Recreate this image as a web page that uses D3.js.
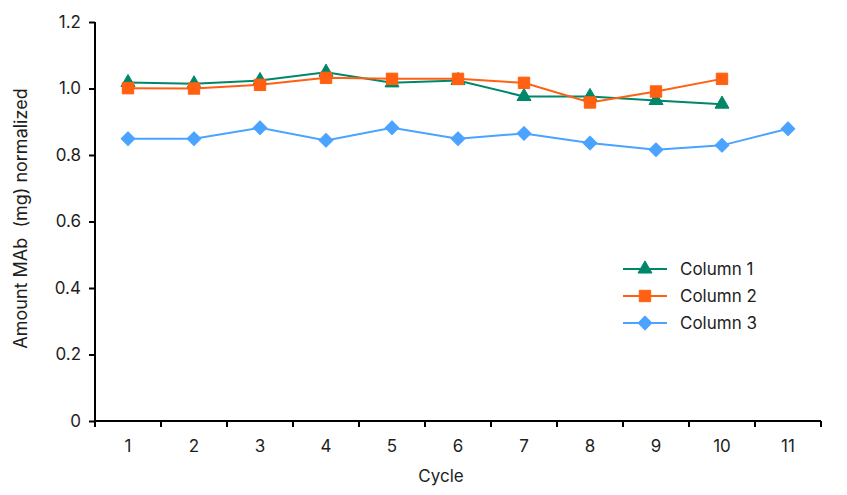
<!DOCTYPE html>
<html>
<head>
<meta charset="utf-8">
<script src="https://cdn.jsdelivr.net/npm/d3@7"></script>
<style>
  body { margin: 0; background: #fff; }
  text { font-family: Inter, "Liberation Sans", sans-serif; fill: #1e1e1e; }
</style>
</head>
<body>
<div id="chart"></div>
<script>
const cycles = [1, 2, 3, 4, 5, 6, 7, 8, 9, 10, 11];
const column1 = [1.018, 1.014, 1.024, 1.049, 1.017, 1.024, 0.976, 0.976, 0.964, 0.953];
const column2 = [1.001, 1.000, 1.011, 1.032, 1.029, 1.029, 1.017, 0.958, 0.991, 1.029];
const column3 = [0.849, 0.849, 0.882, 0.844, 0.882, 0.849, 0.865, 0.836, 0.816, 0.829, 0.879];
const yTicks = [0, 0.2, 0.4, 0.6, 0.8, 1.0, 1.2];

// rotate: diamond is a square turned 45 degrees
const series = [
  { name: "Column 1", values: column1, color: "#00876a", symbol: d3.symbolTriangle, size: 85, rotate: 0 },
  { name: "Column 2", values: column2, color: "#ff6011", symbol: d3.symbolSquare, size: 130, rotate: 0 },
  { name: "Column 3", values: column3, color: "#4aa3ff", symbol: d3.symbolSquare, size: 95, rotate: 45 }
];

var margin = { top: 22, right: 26, bottom: 74, left: 95 },
    width = 847 - margin.left - margin.right,
    height = 495 - margin.top - margin.bottom;

var svg = d3.select("#chart")
    .append("svg")
    .attr("width", 847)
    .attr("height", 495)
    .append("g")
    .attr("transform", "translate(" + margin.left + "," + margin.top + ")");

var x = d3.scaleBand()
    .domain(cycles)
    .range([0, width]);

var y = d3.scaleLinear()
    .domain([0, 1.2])
    .range([height, 0]);

// x axis: ticks sit between the categories
var xAxis = svg.append("g")
    .attr("transform", "translate(0," + height + ")");
xAxis.append("line")
    .attr("x1", 0).attr("x2", width)
    .attr("stroke", "#000").attr("stroke-width", 2);
xAxis.selectAll("line.tick")
    .data(cycles.concat([null]))
    .enter().append("line")
    .attr("class", "tick")
    .attr("x1", (d, i) => i * x.bandwidth())
    .attr("x2", (d, i) => i * x.bandwidth())
    .attr("y1", 0).attr("y2", 6)
    .attr("stroke", "#000").attr("stroke-width", 2);
xAxis.selectAll("text")
    .data(cycles)
    .enter().append("text")
    .attr("x", d => x(d) + x.bandwidth() / 2)
    .attr("y", 31)
    .attr("text-anchor", "middle")
    .style("font-size", "17px")
    .text(d => d);

// y axis
var yAxis = svg.append("g")
    .call(d3.axisLeft(y).tickValues(yTicks).tickSize(6).tickPadding(8)
        .tickFormat(d => d === 0 ? "0" : d3.format(".1f")(d)));
yAxis.select(".domain").attr("stroke", "#000").attr("stroke-width", 2)
    .attr("d", "M0," + y(1.2) + "V" + height);
yAxis.selectAll(".tick line").attr("stroke", "#000").attr("stroke-width", 2);
yAxis.selectAll(".tick text")
    .style("font-size", "17px")
    .style("font-family", "Inter, 'Liberation Sans', sans-serif")
    .attr("fill", "#1e1e1e");

function marker(s) {
    return d3.symbol().type(s.symbol).size(s.size)();
}

// lines and markers
series.forEach(function (s) {
    var line = d3.line()
        .x((d, i) => x(cycles[i]) + x.bandwidth() / 2)
        .y(d => y(d));
    svg.append("path")
        .attr("d", line(s.values))
        .attr("fill", "none")
        .attr("stroke", s.color)
        .attr("stroke-width", 2);
    svg.selectAll(null)
        .data(s.values)
        .enter().append("path")
        .attr("d", marker(s))
        .attr("transform", (d, i) => "translate(" + (x(cycles[i]) + x.bandwidth() / 2) + "," + y(d) + ")rotate(" + s.rotate + ")")
        .attr("fill", s.color)
        .attr("stroke", s.color)
        .attr("stroke-width", 1)
        .attr("stroke-linejoin", "round");
});

// legend
var legend = svg.append("g")
    .attr("transform", "translate(528,247)");
series.forEach(function (s, i) {
    var g = legend.append("g").attr("transform", "translate(0," + i * 27 + ")");
    g.append("line")
        .attr("x1", 0).attr("x2", 44)
        .attr("stroke", s.color).attr("stroke-width", 2);
    g.append("path")
        .attr("d", marker(s))
        .attr("transform", "translate(22,0)rotate(" + s.rotate + ")")
        .attr("fill", s.color)
        .attr("stroke", s.color)
        .attr("stroke-width", 1)
        .attr("stroke-linejoin", "round");
    g.append("text")
        .attr("x", 57)
        .attr("y", 6)
        .style("font-size", "17px")
        .text(s.name);
});

// axis titles
svg.append("text")
    .attr("x", width / 2 - 17)
    .attr("y", height + 61)
    .attr("text-anchor", "middle")
    .style("font-size", "17px")
    .text("Cycle");

svg.append("text")
    .attr("transform", "translate(" + (-68) + "," + (height / 2 - 3) + ")rotate(-90)")
    .attr("text-anchor", "middle")
    .style("font-size", "18px")
    .text("Amount MAb\u00a0 (mg) normalized");
</script>
</body>
</html>
